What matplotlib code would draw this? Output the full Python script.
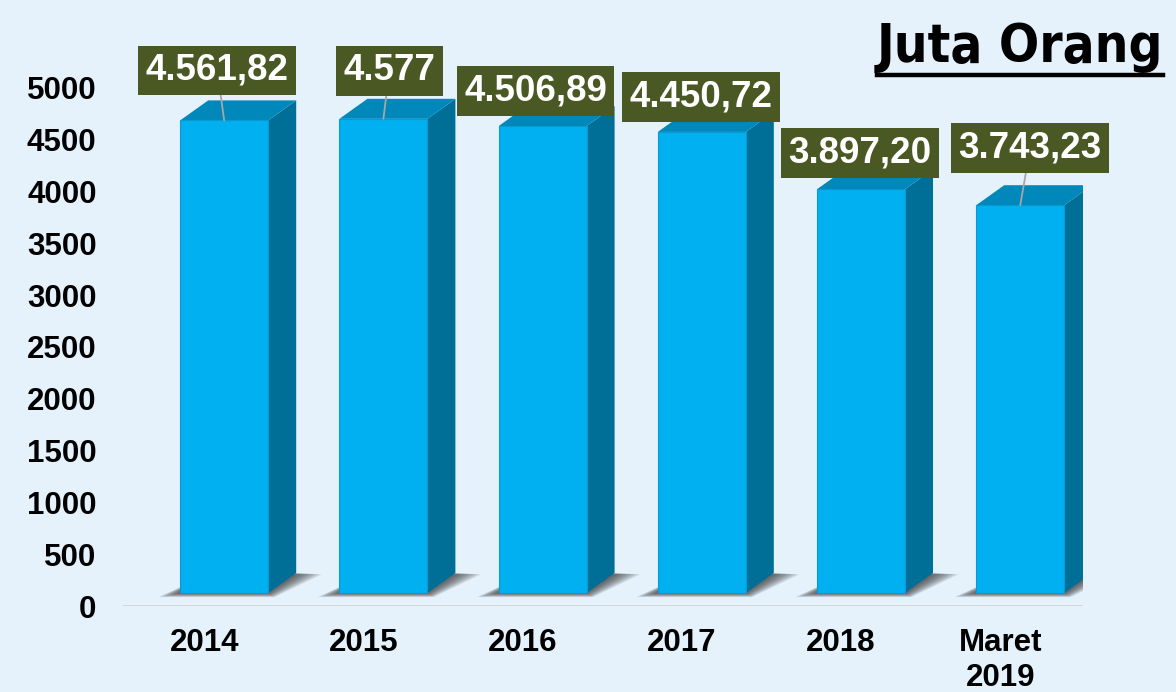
import numpy as np
import matplotlib.pyplot as plt
from matplotlib.patches import Polygon
from matplotlib.lines import Line2D

plt.rcParams['font.family'] = ['Liberation Sans', 'DejaVu Sans']

#####################################################################
# data
years = ['2014', '2015', '2016', '2017', '2018', 'Maret\n2019']
jumlah = [4561.82, 4577, 4506.89, 4450.72, 3897.20, 3743.23]
label_teks = ['4.561,82', '4.577', '4.506,89', '4.450,72', '3.897,20', '3.743,23']
yticks = np.arange(0, 5001, 500)

# label placement (px from top middle of front face) and leader lines
label_dx = [-7, 6, -7, -1, -1, 10]
label_dy = [50, 48, 35, 35, 36, 57]
leader = [True, True, False, False, False, True]

#####################################################################
W, H = 1176, 692
fig = plt.figure(figsize=(W/100, H/100), dpi=100)
fig.patch.set_facecolor('#E5F2FC')
ax = fig.add_axes([123/W, (H-606)/H, 960/W, 518/H])
ax.set_xlim(-0.51, 5.52)
ax.set_ylim(0, 5000)
ax.patch.set_alpha(0)

# pixel -> data units
px_x = 6.03/960
px_y = 5000/518

lift = 13*px_y      # front face sits a bit above the floor line
dx = 28*px_x        # depth of the 3d box
dy = 20*px_y
x_left = -24*px_x
bw = 88*px_x

c_front = '#00B0F0'
c_side = '#006F98'
c_top = '#0088BA'

for i, v in enumerate(jumlah):
    x0 = i + x_left
    x1 = x0 + bw
    b = lift
    t = lift + v

    # soft shadow on the floor
    for k in range(1, 10):
        ex = k*2.4*px_x
        ey = k*0.45*px_y
        shadow = [(x0-ex, b-ey), (x1+ex*0.3, b-ey), (x1+dx+ex*1.2, b+dy-ey*0.3), (x0+dx, b+dy-ey*0.3)]
        ax.add_patch(Polygon(shadow, closed=True, facecolor='#303030', alpha=0.12,
                             edgecolor='none', zorder=1))

    front = [(x0, b), (x1, b), (x1, t), (x0, t)]
    side = [(x1, b), (x1+dx, b+dy), (x1+dx, t+dy), (x1, t)]
    top = [(x0, t), (x1, t), (x1+dx, t+dy), (x0+dx, t+dy)]
    ax.add_patch(Polygon(side, closed=True, facecolor=c_side, edgecolor='none', zorder=2))
    ax.add_patch(Polygon(top, closed=True, facecolor=c_top, edgecolor='none', zorder=2))
    ax.add_patch(Polygon(front, closed=True, facecolor=c_front, edgecolor='#0A9AD0',
                         linewidth=0.8, zorder=3))

    arrow = dict(arrowstyle='-', color='#A6A6A6', lw=1.3, shrinkA=0, shrinkB=0) if leader[i] else None
    ax.annotate(label_teks[i], xy=((x0+x1)/2, t),
                xytext=(label_dx[i]*0.72, label_dy[i]*0.72), textcoords='offset points',
                ha='center', va='center', fontsize=26.5, fontweight='bold', color='white',
                bbox=dict(boxstyle='square,pad=0.2', facecolor='#4A5823', edgecolor='none'),
                arrowprops=arrow, zorder=5, annotation_clip=False)

ax.axhline(0, color='#D3D3D3', lw=2, zorder=0)

ax.set_yticks(yticks)
ax.set_yticklabels([str(y) for y in yticks], fontsize=22.5, fontweight='bold')
ax.set_xticks(range(len(years)))
ax.set_xticklabels(years, fontsize=22.5, fontweight='bold', linespacing=1.2)
ax.tick_params(axis='y', length=0, pad=19)
ax.tick_params(axis='x', length=0, pad=16)
for s in ax.spines.values():
    s.set_visible(False)

# title, underlined
judul = fig.text(1163/W, (H-62)/H, 'Juta Orang', ha='right', va='baseline',
                 fontsize=38, fontweight='bold', fontstretch='condensed',
                 family=['DejaVu Sans'])
fig.canvas.draw()
bb = judul.get_window_extent()
fig.add_artist(Line2D([bb.x0/W, bb.x1/W], [(H-75)/H]*2, color='black', lw=3.2))

plt.savefig('out.png', dpi=100, facecolor=fig.get_facecolor())
